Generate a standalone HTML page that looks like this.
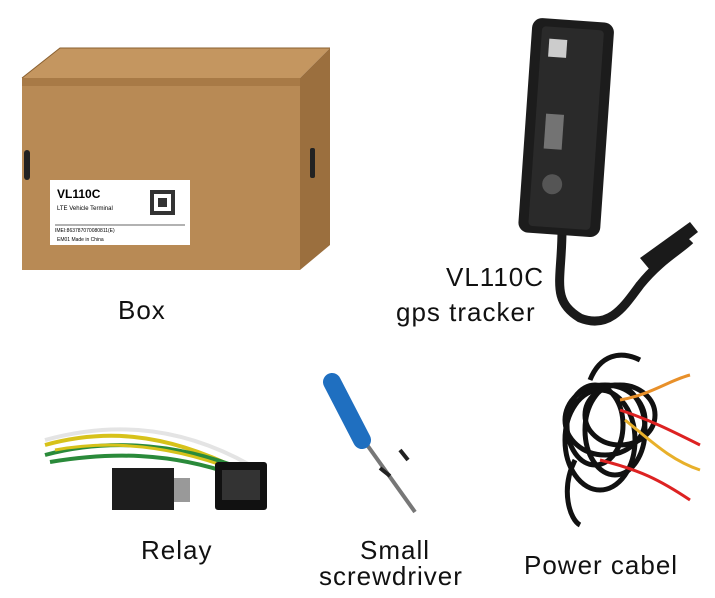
<!DOCTYPE html>
<html><head><meta charset="utf-8"><style>
html,body{margin:0;padding:0;background:#fff;}
body{width:715px;height:598px;position:relative;overflow:hidden;font-family:"Liberation Sans",sans-serif;}
.t{position:absolute;font-size:26px;color:#111;white-space:nowrap;letter-spacing:1px;}
</style></head><body>
<svg width="715" height="598" style="position:absolute;left:0;top:0">
 <!-- Box -->
 <polygon points="22,78 300,78 300,270 22,270" fill="#b88a55"/>
 <polygon points="22,78 60,48 330,48 300,78" fill="#c49660"/>
 <polyline points="22,78 60,48 330,48" fill="none" stroke="#8a6030" stroke-width="1"/>
 <polygon points="300,78 330,48 330,245 300,270" fill="#9b6f3e"/>
 <polygon points="22,78 300,78 300,86 22,86" fill="#a87a46"/>
 <rect x="24" y="150" width="6" height="30" rx="3" fill="#222"/>
 <rect x="310" y="148" width="5" height="30" rx="2" fill="#222"/>
 <rect x="50" y="180" width="140" height="65" fill="#fff"/>
 <text x="57" y="198" font-size="12" font-weight="bold" font-family="Liberation Sans">VL110C</text>
 <text x="57" y="210" font-size="6" font-family="Liberation Sans">LTE Vehicle Terminal</text>
 <line x1="55" y1="225" x2="185" y2="225" stroke="#333" stroke-width="0.7"/>
 <text x="55" y="232" font-size="5" font-family="Liberation Sans">IMEI:863787070080811(E)</text>
 <text x="57" y="241" font-size="5" font-family="Liberation Sans">EM01          Made in China</text>
 <rect x="150" y="190" width="25" height="25" fill="#333"/>
 <rect x="154" y="194" width="17" height="17" fill="#fff"/>
 <rect x="158" y="198" width="9" height="9" fill="#333"/>
 <!-- Tracker -->
 <path d="M562,230 C562,280 550,300 580,318 C610,330 625,305 640,285 C660,260 680,250 690,240" fill="none" stroke="#1a1a1a" stroke-width="9"/>
 <polygon points="640,258 690,222 698,232 650,270" fill="#1a1a1a"/>
 <g transform="rotate(4 565 130)">
  <rect x="525" y="20" width="82" height="215" rx="10" fill="#1c1c1c"/>
  <rect x="535" y="28" width="62" height="200" rx="4" fill="#2a2a2a"/>
  <rect x="543" y="40" width="18" height="18" fill="#ccc"/>
  <rect x="545" y="115" width="18" height="35" fill="#bbb" opacity="0.5"/>
  <circle cx="556" cy="185" r="10" fill="#555"/>
 </g>
 <!-- Relay wires -->
 <path d="M45,440 C100,425 170,420 250,465" fill="none" stroke="#e4e4e4" stroke-width="4"/>
 <path d="M45,445 C100,430 160,430 240,470" fill="none" stroke="#d7c21a" stroke-width="4"/>
 <path d="M45,455 C100,440 170,440 245,470" fill="none" stroke="#2a8a3a" stroke-width="4"/>
 <path d="M50,462 C110,452 170,452 235,475" fill="none" stroke="#2a8a3a" stroke-width="4"/>
 <path d="M55,450 C110,440 170,445 235,470" fill="none" stroke="#d7c21a" stroke-width="3"/>
 <rect x="112" y="468" width="62" height="42" fill="#1d1d1d"/>
 <rect x="174" y="478" width="16" height="24" fill="#999"/>
 <rect x="215" y="462" width="52" height="48" rx="3" fill="#111"/>
 <rect x="222" y="470" width="38" height="30" fill="#333"/>
 <!-- Screwdriver -->
 <line x1="360" y1="435" x2="415" y2="512" stroke="#777" stroke-width="4"/>
 <line x1="332" y1="382" x2="362" y2="440" stroke="#1f6fc0" stroke-width="18" stroke-linecap="round"/>
 <line x1="400" y1="450" x2="408" y2="460" stroke="#222" stroke-width="4"/>
 <line x1="380" y1="468" x2="390" y2="476" stroke="#222" stroke-width="4"/>
 <!-- Power cable -->
 <g fill="none" stroke="#111" stroke-width="5">
  <ellipse cx="605" cy="420" rx="40" ry="35"/>
  <ellipse cx="600" cy="440" rx="35" ry="50"/>
  <ellipse cx="615" cy="430" rx="30" ry="45"/>
  <ellipse cx="595" cy="425" rx="28" ry="40"/>
  <ellipse cx="620" cy="415" rx="35" ry="30"/>
  <path d="M575,460 C560,490 570,520 580,525"/>
  <path d="M590,380 C600,355 620,350 640,360"/>
 </g>
 <path d="M620,410 C650,420 670,430 700,445" stroke="#d22" stroke-width="3" fill="none"/>
 <path d="M620,400 C650,395 670,380 690,375" stroke="#e8902a" stroke-width="3" fill="none"/>
 <path d="M625,420 C650,440 670,460 700,470" stroke="#e8b02a" stroke-width="3" fill="none"/>
 <path d="M600,460 C640,470 660,480 690,500" stroke="#d22" stroke-width="3" fill="none"/>
</svg>
<div class="t" style="left:118px;top:295px">Box</div>
<div class="t" style="left:446px;top:262px">VL110C</div>
<div class="t" style="left:396px;top:297px">gps tracker</div>
<div class="t" style="left:141px;top:535px">Relay</div>
<div class="t" style="left:360px;top:535px">Small</div>
<div class="t" style="left:319px;top:561px">screwdriver</div>
<div class="t" style="left:524px;top:550px">Power cabel</div>
</body></html>
